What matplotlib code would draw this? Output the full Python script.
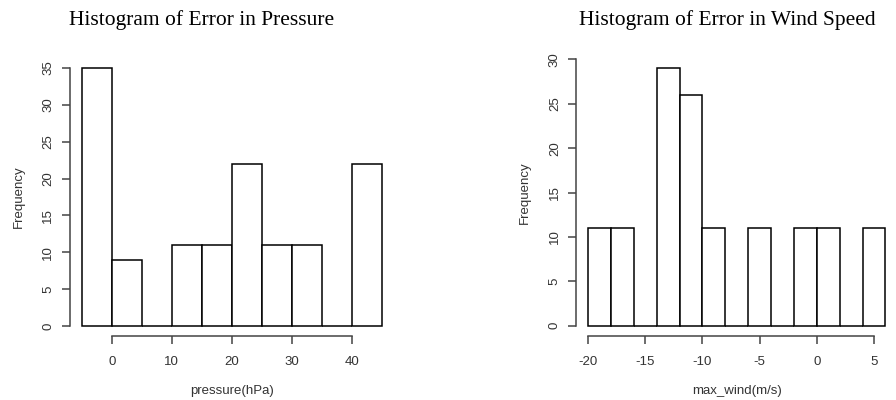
import numpy as np
import matplotlib
matplotlib.use("Agg")
from matplotlib import pyplot as plt

plt.rcParams["axes.unicode_minus"] = False

# Histogram of pressure error: bin edges and counts
pressure_edges = [-5, 0, 5, 10, 15, 20, 25, 30, 35, 40, 45]
pressure_counts = [35, 9, 0, 11, 11, 22, 11, 11, 0, 22]
pressure_xticks = [0, 10, 20, 30, 40]
pressure_yticks = [0, 5, 10, 15, 20, 25, 30, 35]

# Histogram of wind speed error
wind_edges = [-20, -18, -16, -14, -12, -10, -8, -6, -4, -2, 0, 2, 4, 6]
wind_counts = [11, 11, 0, 29, 26, 11, 0, 11, 0, 11, 11, 0, 11]
wind_xticks = [-20, -15, -10, -5, 0, 5]
wind_yticks = [0, 5, 10, 15, 20, 25, 30]

SANS = "Liberation Sans"
SERIF = "Liberation Serif"
AXIS_COL = "#444444"
TEXT_COL = "#333333"


def r_hist(ax, edges, counts, xticks, yticks, xlabel):
    """Draw a histogram in the style of R's base hist()."""
    edges = np.array(edges, dtype=float)
    ax.bar(edges[:-1], counts, width=np.diff(edges), align="edge",
           color="white", edgecolor="black", linewidth=1.1)
    xpad = 0.04 * (edges[-1] - edges[0])
    ax.set_xlim(edges[0] - xpad, edges[-1] + xpad)
    ypad = 0.04 * yticks[-1]
    ax.set_ylim(-ypad, yticks[-1] + ypad)

    for side in ("top", "right"):
        ax.spines[side].set_visible(False)
    ax.spines["left"].set_bounds(yticks[0], yticks[-1])
    ax.spines["bottom"].set_bounds(xticks[0], xticks[-1])
    for side in ("left", "bottom"):
        ax.spines[side].set_color(AXIS_COL)
        ax.spines[side].set_linewidth(1.1)

    ax.set_xticks(xticks)
    ax.set_xticklabels([str(t) for t in xticks])
    ax.set_yticks(yticks)
    ax.set_yticklabels([str(t) for t in yticks], rotation=90, va="center")
    ax.tick_params(direction="out", length=6, width=1.1, color=AXIS_COL,
                   labelcolor=TEXT_COL, labelsize=9.5)
    ax.tick_params(axis="x", pad=8)
    ax.tick_params(axis="y", pad=5)
    for lab in ax.get_xticklabels() + ax.get_yticklabels():
        lab.set_family(SANS)
    ax.set_xlabel(xlabel, fontsize=9.5, family=SANS, color=TEXT_COL, labelpad=12)
    ax.set_ylabel("Frequency", fontsize=9.5, family=SANS, color=TEXT_COL, labelpad=13)


fig = plt.figure(figsize=(8.96, 4.0), dpi=100)

ax1 = fig.add_axes([0.0778, 0.159, 0.3616, 0.697])
r_hist(ax1, pressure_edges, pressure_counts, pressure_xticks, pressure_yticks,
       "pressure(hPa)")

ax2 = fig.add_axes([0.643, 0.159, 0.3585, 0.719])
r_hist(ax2, wind_edges, wind_counts, wind_xticks, wind_yticks, "max_wind(m/s)")

fig.text(202 / 896, 1 - 20 / 400, "Histogram of Error in Pressure",
         ha="center", va="center", fontsize=15.5, family=SERIF, color="black")
fig.text(727 / 896, 1 - 20 / 400, "Histogram of Error in Wind Speed",
         ha="center", va="center", fontsize=15.5, family=SERIF, color="black")

fig.savefig("out.png", dpi=100)
